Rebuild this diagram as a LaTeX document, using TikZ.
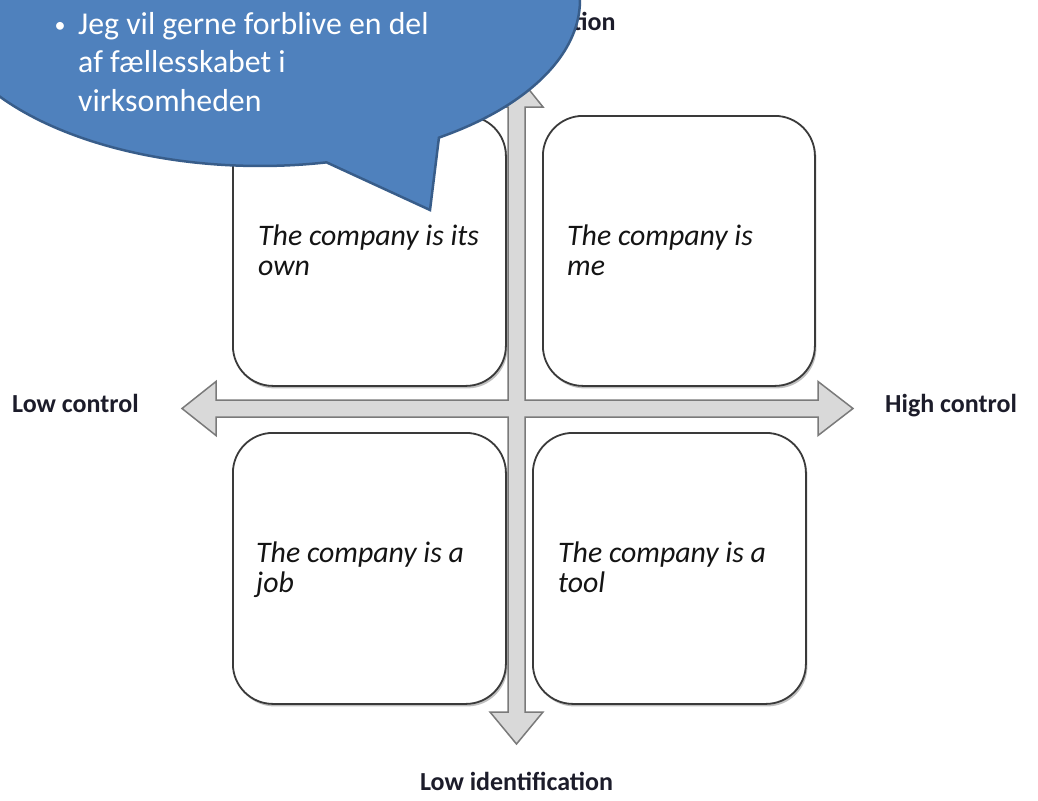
\documentclass[tikz,border=0pt]{standalone}
\usepackage{fontspec}
\setmainfont{Carlito}
\usetikzlibrary{shadows}
\definecolor{calloutfill}{HTML}{4F81BD}
\definecolor{calloutline}{HTML}{385D8A}
\definecolor{boxline}{HTML}{3A3A3A}
\definecolor{arrowfill}{HTML}{D9D9D9}
\definecolor{arrowline}{HTML}{7A7A7A}
\definecolor{labeltext}{HTML}{1C1C2A}
\begin{document}
\begin{tikzpicture}[x=1pt,y=-1pt,
  quadbox/.style={draw=boxline, line width=1.8pt, rounded corners=40pt, fill=white,
    inner sep=0pt, anchor=north west,
    drop shadow={shadow xshift=1.5pt, shadow yshift=-2.5pt, opacity=0.25, fill=black}},
  quadtext/.style={inner sep=0pt, anchor=base west, text=black!92,
    font=\fontsize{29.8}{30}\selectfont\itshape},
  axislabel/.style={inner sep=0pt, text=labeltext, font=\fontsize{26}{28}\selectfont\bfseries},
  crossarrow/.style={fill=arrowfill, draw=arrowline, line width=1.5pt, line join=miter},
  bubble/.style={fill=calloutfill, draw=calloutline, line width=2.5pt, line join=miter},
  bubbletext/.style={inner sep=0pt, anchor=base west, text=white,
    font=\fontsize{31.8}{38}\selectfont}]
\path[use as bounding box] (0,0) rectangle (1038,800);
\clip (0,0) rectangle (1038,800);
\fill[white] (0,0) rectangle (1038,800);

% cross-shaped double arrows
\draw[crossarrow] (853,408.5) -- (818,381.5) -- (818,400) -- (525,400) -- (525,107)
  -- (543,107) -- (516.5,74) -- (490,107) -- (508,107) -- (508,400) -- (216,400)
  -- (216,381.5) -- (182,408.5) -- (216,435.5) -- (216,417) -- (508,417) -- (508,712)
  -- (490,712) -- (516.5,744) -- (543,712) -- (525,712) -- (525,417) -- (818,417)
  -- (818,435.5) -- cycle;

% quadrant boxes
\node[quadbox, minimum width=273pt, minimum height=270pt] (tl) at (232,115) {};
\node[quadbox, minimum width=272pt, minimum height=270pt] (tr) at (542,115) {};
\node[quadbox, minimum width=273pt, minimum height=271pt] (bl) at (232,432) {};
\node[quadbox, minimum width=273pt, minimum height=271pt] (br) at (532,432) {};

\node[quadtext] (tla) at (258,245) {The company is its};
\node[quadtext] (tlb) at (258,275) {own};
\node[quadtext] (tra) at (567,245) {The company is};
\node[quadtext] (trb) at (567,275) {me};
\node[quadtext] (bla) at (256,562) {The company is a};
\node[quadtext] (blb) at (256,592) {job};
\node[quadtext] (bra) at (558,562) {The company is a};
\node[quadtext] (brb) at (558,592) {tool};

% axis labels
\node[axislabel, anchor=base west] (lowc) at (12,412) {Low control};
\node[axislabel, anchor=base west] (highc) at (885,412) {High control};
\node[axislabel, anchor=base] (lowi) at (516.5,790) {Low identification};
\node[axislabel, anchor=base] (highi) at (516.5,31) {High identification};

% speech bubble
\draw[bubble] plot[domain=78:416, samples=240, variable=\t]
  ({260+320*cos(\t)}, {166*sin(\t)}) -- (430,210) -- cycle;
\node[bubbletext, anchor=base, font=\fontsize{22}{24}\selectfont] (bul) at (60,33) {•};
\node[bubbletext] (c1) at (78,35) {Jeg vil gerne forblive en del};
\node[bubbletext] (c2) at (78,73) {af fællesskabet i};
\node[bubbletext] (c3) at (78,111) {virksomheden};
\end{tikzpicture}
\end{document}
